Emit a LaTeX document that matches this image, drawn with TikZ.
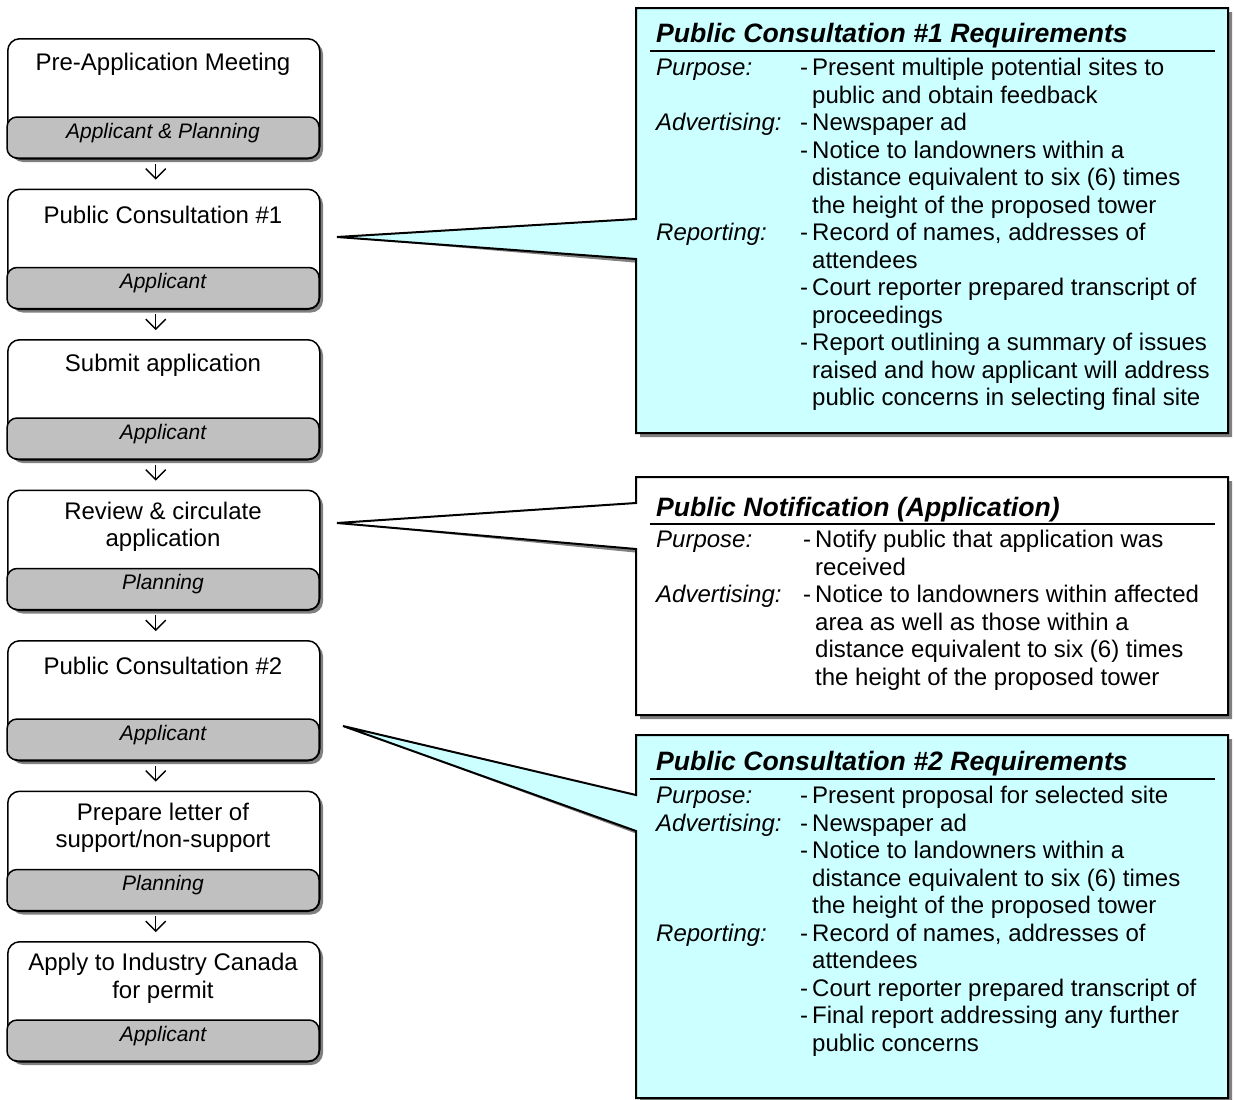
\documentclass[tikz,border=0pt]{standalone}
\usepackage{fontspec}
\setmainfont{Liberation Sans}
\usetikzlibrary{arrows.meta,calc}

\definecolor{shadowgray}{HTML}{808080}
\definecolor{bandgray}{HTML}{C0C0C0}
\definecolor{calloutcyan}{HTML}{CCFFFF}

% column helpers for the requirement lists
\newlength{\labw}
\newcommand{\lab}[1]{\makebox[\labw][l]{\itshape #1}}
\newcommand{\nolab}{\hspace*{\labw}}
\newcommand{\dsh}{\makebox[12pt][l]{-}}
\newcommand{\ind}{\hspace*{12pt}}

\tikzset{
  boxframe/.style={draw, line width=1.5pt, fill=white, rounded corners=12pt,
    minimum width=312pt, minimum height=120pt, inner sep=0pt},
  bandfill/.style={draw, line width=1.5pt, fill=bandgray, rounded corners=10pt},
  titletext/.style={font=\fontsize{24}{27.5}\selectfont, align=center, inner sep=0pt},
  bandtext/.style={font=\fontsize{21}{24}\selectfont\itshape, inner sep=0pt},
  flowarrow/.style={line width=1.4pt, -{Straight Barb[length=10pt,width=20pt,line width=1.4pt]}},
  calloutline/.style={draw, line width=2pt, line join=miter},
  calltitle/.style={font=\fontsize{26.6}{30}\selectfont\bfseries\itshape, inner sep=0pt, anchor=base west},
  % multi-line body: anchored at the baseline of its last line
  callbody/.style={font=\fontsize{24}{27.5}\selectfont, align=left, inner sep=0pt, anchor=base west},
  titlerule/.style={line width=1.4pt},
}

% one step of the process: name, top y, title offset, title, responsible party
\newcommand{\flowbox}[5]{%
  \fill[shadowgray, rounded corners=12pt] (11,#2+4) rectangle (323,#2+124);
  \node[boxframe, anchor=north west] (#1) at (7,#2) {};
  \draw[bandfill] (7,#2+79) rectangle (319,#2+120);
  \node[titletext] (#1-title) at (163,#2+#3) {#4};
  \node[bandtext] (#1-band) at (163,#2+95) {#5};
}

\begin{document}
\begin{tikzpicture}[x=1pt,y=-1pt]
\useasboundingbox[fill=white] (0,0) rectangle (1234,1100);

% ---------------- process steps ----------------
\flowbox{s1}{38}{26}{Pre-Application Meeting}{Applicant \& Planning}
\flowbox{s2}{188.5}{26}{Public Consultation \#1}{Applicant}
\flowbox{s3}{339}{26}{Submit application}{Applicant}
\flowbox{s4}{489.5}{37.5}{Review \& circulate\\application}{Planning}
\flowbox{s5}{640}{26}{Public Consultation \#2}{Applicant}
\flowbox{s6}{790.5}{37.5}{Prepare letter of\\support/non-support}{Planning}
\flowbox{s7}{941}{37.5}{Apply to Industry Canada\\for permit}{Applicant}

\foreach \a/\b in {s1/s2,s2/s3,s3/s4,s4/s5,s5/s6,s6/s7}
  \draw[flowarrow] ($(\a.south)+(-8,4)$) -- ($(\b.north)+(-8,-9)$);

% ---------------- callout: Public Consultation #1 ----------------
\coordinate (tip1) at (337,237);
\fill[shadowgray, shift={(4,4)}] (636,8) -- (1228,8) -- (1228,433) -- (636,433)
  -- (636,259) -- (tip1) -- (636,219) -- cycle;
\path[calloutline, fill=calloutcyan] (636,8) -- (1228,8) -- (1228,433) -- (636,433)
  -- (636,259) -- (tip1) -- (636,219) -- cycle;
\node[calltitle] (pc1-title) at (656,42.5) {Public Consultation \#1 Requirements};
\draw[titlerule] (650,51) -- (1215,51);
\setlength{\labw}{144pt}
\node[callbody] (pc1-body) at (656,405.6) {%
\lab{Purpose:}\dsh Present multiple potential sites to\\
\nolab\ind public and obtain feedback\\
\lab{Advertising:}\dsh Newspaper ad\\
\nolab\dsh Notice to landowners within a\\
\nolab\ind distance equivalent to six (6) times\\
\nolab\ind the height of the proposed tower\\
\lab{Reporting:}\dsh Record of names, addresses of\\
\nolab\ind attendees\\
\nolab\dsh Court reporter prepared transcript of\\
\nolab\ind proceedings\\
\nolab\dsh Report outlining a summary of issues\\
\nolab\ind raised and how applicant will address\\
\nolab\ind public concerns in selecting final site};

% ---------------- callout: Public Notification ----------------
\coordinate (tip2) at (337,523);
\fill[shadowgray, shift={(4,4)}] (636,477) -- (1228,477) -- (1228,715) -- (636,715)
  -- (636,549) -- (tip2) -- (636,503) -- cycle;
\path[calloutline, fill=white] (636,477) -- (1228,477) -- (1228,715) -- (636,715)
  -- (636,549) -- (tip2) -- (636,503) -- cycle;
\node[calltitle] (pn-title) at (656,516.5) {Public Notification (Application)};
\draw[titlerule] (650,524) -- (1215,524);
\setlength{\labw}{147pt}
\node[callbody] (pn-body) at (656,685.1) {%
\lab{Purpose:}\dsh Notify public that application was\\
\nolab\ind received\\
\lab{Advertising:}\dsh Notice to landowners within affected\\
\nolab\ind area as well as those within a\\
\nolab\ind distance equivalent to six (6) times\\
\nolab\ind the height of the proposed tower};

% ---------------- callout: Public Consultation #2 ----------------
\coordinate (tip3) at (343,726);
\fill[shadowgray, shift={(4,4)}] (636,735) -- (1228,735) -- (1228,1098) -- (636,1098)
  -- (636,831) -- (tip3) -- (636,795) -- cycle;
\path[calloutline, fill=calloutcyan] (636,735) -- (1228,735) -- (1228,1098) -- (636,1098)
  -- (636,831) -- (tip3) -- (636,795) -- cycle;
\node[calltitle] (pc2-title) at (656,770.5) {Public Consultation \#2 Requirements};
\draw[titlerule] (650,779) -- (1215,779);
\setlength{\labw}{144pt}
\node[callbody] (pc2-body) at (656,1051.1) {%
\lab{Purpose:}\dsh Present proposal for selected site\\
\lab{Advertising:}\dsh Newspaper ad\\
\nolab\dsh Notice to landowners within a\\
\nolab\ind distance equivalent to six (6) times\\
\nolab\ind the height of the proposed tower\\
\lab{Reporting:}\dsh Record of names, addresses of\\
\nolab\ind attendees\\
\nolab\dsh Court reporter prepared transcript of\\
\nolab\dsh Final report addressing any further\\
\nolab\ind public concerns};
\end{tikzpicture}
\end{document}
